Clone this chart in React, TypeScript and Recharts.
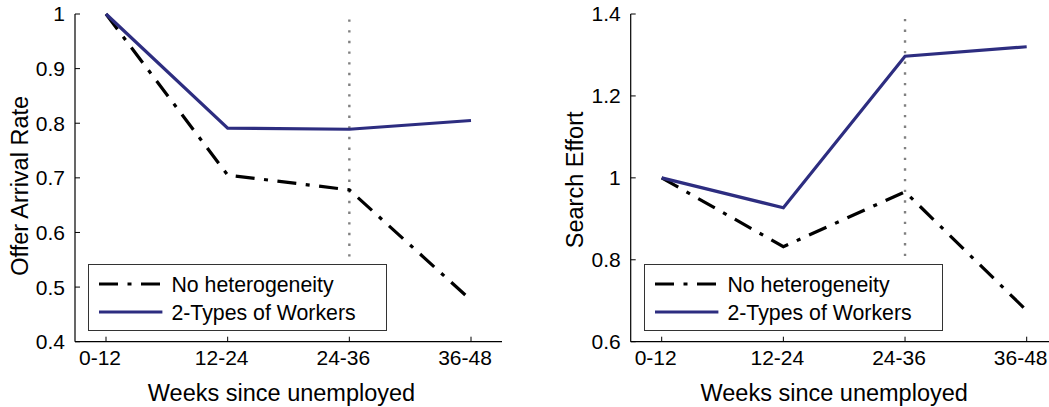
import React from 'react';
import { LineChart, Line, XAxis, YAxis, ReferenceLine, Legend } from 'recharts';

const categories = ['0-12', '12-24', '24-36', '36-48'];
const offerNoHet = [1.0, 0.705, 0.678, 0.476];
const offerTwoTypes = [1.0, 0.791, 0.789, 0.805];
const effortNoHet = [1.0, 0.832, 0.966, 0.676];
const effortTwoTypes = [1.0, 0.927, 1.297, 1.32];
const offerTicks = [0.4, 0.5, 0.6, 0.7, 0.8, 0.9, 1];
const effortTicks = [0.6, 0.8, 1, 1.2, 1.4];
const seriesNames = ['No heterogeneity', '2-Types of Workers'];
const markerCategory = '24-36';
const offerMarkerRange = [0.99, 0.556];
const effortMarkerRange = [1.388, 0.807];

const FONT = '"Liberation Sans", Arial, Helvetica, sans-serif';
const BLUE = '#2d2d80';
const DASHDOT = '19 9.5 4 9.5';

const offerData = categories.map((c, i) => ({ cat: c, a: offerNoHet[i], b: offerTwoTypes[i] }));
const effortData = categories.map((c, i) => ({ cat: c, a: effortNoHet[i], b: effortTwoTypes[i] }));

const LegendBox = (props: any) => {
  const payload = [...(props.payload || [])].sort(
    (x: any, y: any) => seriesNames.indexOf(x.value) - seriesNames.indexOf(y.value)
  );
  return (
    <div style={{ width: 299, height: 67, boxSizing: 'border-box', border: '1px solid #333', background: '#fff' }}>
      <svg width={297} height={65} style={{ display: 'block' }}>
        {payload.map((p: any, i: number) => (
          <g key={i}>
            <line
              x1={10}
              x2={73.4}
              y1={19 + i * 28}
              y2={19 + i * 28}
              stroke={p.color}
              strokeWidth={3.2}
              strokeDasharray={p.payload && p.payload.strokeDasharray}
            />
            <text x={82.4} y={26.6 + i * 28} fontSize={21.3} fontFamily={FONT} fill="#000">
              {p.value}
            </text>
          </g>
        ))}
      </svg>
    </div>
  );
};

const makeXTitle = (dx: number) => (props: any) => {
  const vb = props.viewBox;
  return (
    <text x={vb.x + vb.width / 2 + dx} y={vb.y + 58.8} textAnchor="middle" fontSize={23.5} fontFamily={FONT} fill="#000">
      Weeks since unemployed
    </text>
  );
};

const makeYTitle = (text: string, dy: number) => (props: any) => {
  const vb = props.viewBox;
  const cx = vb.x + vb.width - 55.3;
  const cy = vb.y + vb.height / 2 + dy;
  return (
    <text
      x={cx}
      y={cy}
      transform={`rotate(-90, ${cx}, ${cy})`}
      textAnchor="middle"
      dominantBaseline="central"
      fontSize={23.5}
      fontFamily={FONT}
      fill="#000"
    >
      {text}
    </text>
  );
};

const tickStyle = { fontSize: 21, fill: '#000', fontFamily: FONT };

type PanelProps = {
  data: any[];
  ticks: number[];
  domain: [number, number];
  yTitle: string;
  yTitleDy: number;
  xTitleDx: number;
  width: number;
  yAxisWidth: number;
  marginRight: number;
  legendLeft: number;
  marker: number[];
};

const Panel = (p: PanelProps) => (
  <LineChart
    width={p.width}
    height={407}
    data={p.data}
    margin={{ top: 14, right: p.marginRight, bottom: 35.3, left: 0 }}
    style={{ fontFamily: FONT }}
  >
    <XAxis
      dataKey="cat"
      type="category"
      interval={0}
      padding={{ left: 31, right: 31 }}
      height={30}
      axisLine={{ stroke: '#000', strokeWidth: 1.2 }}
      tickLine={{ stroke: '#000', strokeWidth: 1 }}
      tickSize={-5}
      tickMargin={13.4}
      tick={{ ...tickStyle, dx: -6 } as any}
      label={{ content: makeXTitle(p.xTitleDx) } as any}
    />
    <YAxis
      type="number"
      domain={p.domain}
      ticks={p.ticks}
      interval={0}
      width={p.yAxisWidth}
      axisLine={{ stroke: '#000', strokeWidth: 1.2 }}
      tickLine={{ stroke: '#000', strokeWidth: 1 }}
      tickSize={-5}
      tickMargin={15}
      tick={tickStyle}
      label={{ content: makeYTitle(p.yTitle, p.yTitleDy) } as any}
    />
    <ReferenceLine
      segment={[
        { x: markerCategory, y: p.marker[0] },
        { x: markerCategory, y: p.marker[1] },
      ]}
      stroke="#808080"
      strokeWidth={2.4}
      strokeDasharray="2.4 8.27"
      ifOverflow="visible"
    />
    <Line
      dataKey="a"
      name={seriesNames[0]}
      stroke="#000"
      strokeWidth={3.2}
      strokeDasharray={DASHDOT}
      dot={false}
      activeDot={false}
      isAnimationActive={false}
      type="linear"
      strokeLinejoin="miter"
    />
    <Line
      dataKey="b"
      name={seriesNames[1]}
      stroke={BLUE}
      strokeWidth={3.2}
      dot={false}
      activeDot={false}
      isAnimationActive={false}
      type="linear"
      strokeLinejoin="miter"
    />
    <Legend
      layout="vertical"
      align="center"
      verticalAlign="middle"
      content={LegendBox}
      wrapperStyle={{ left: p.legendLeft, top: 264.3, width: 299, height: 67, margin: 0, padding: 0 }}
    />
  </LineChart>
);

export default function App() {
  return (
    <div style={{ position: 'absolute', left: 0, top: 0, width: 1049, height: 407, overflow: 'hidden', background: '#fff' }}>
      <div style={{ position: 'absolute', left: 0, top: 0 }}>
        <Panel
          data={offerData}
          ticks={offerTicks}
          domain={[0.4, 1]}
          yTitle="Offer Arrival Rate"
          yTitleDy={8}
          xTitleDx={-7}
          width={525}
          yAxisWidth={75}
          marginRight={23}
          legendLeft={88.3}
          marker={offerMarkerRange}
        />
      </div>
      <div style={{ position: 'absolute', left: 525, top: 0 }}>
        <Panel
          data={effortData}
          ticks={effortTicks}
          domain={[0.6, 1.4]}
          yTitle="Search Effort"
          yTitleDy={2}
          xTitleDx={-10}
          width={540}
          yAxisWidth={105.7}
          marginRight={7.3}
          legendLeft={119.3}
          marker={effortMarkerRange}
        />
      </div>
    </div>
  );
}
